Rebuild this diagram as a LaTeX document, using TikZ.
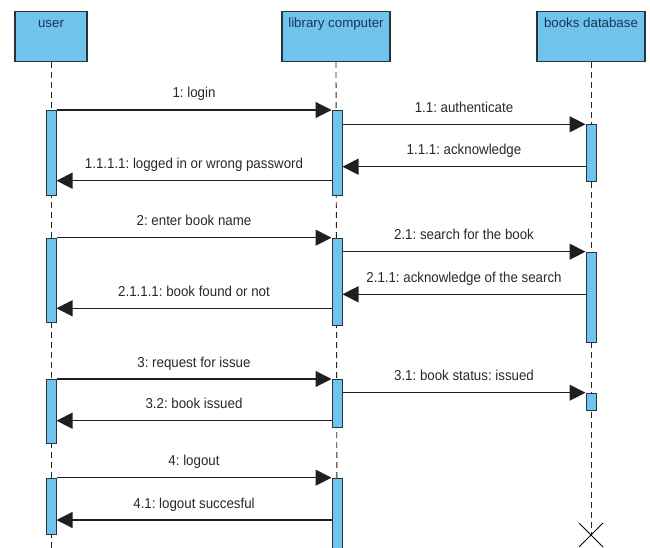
\documentclass[tikz,border=0pt]{standalone}
\usepackage{fontspec}
\setmainfont{Liberation Sans}
\usetikzlibrary{arrows.meta,calc}
\frenchspacing

\definecolor{barblue}{RGB}{112,196,236}
\definecolor{edgeblue}{RGB}{38,52,66}
\definecolor{headtxt}{RGB}{28,52,88}
\definecolor{msgtxt}{RGB}{40,40,40}

\tikzset{
  head/.style={draw=edgeblue, line width=1.2pt, fill=barblue, minimum height=50pt, inner sep=0pt, anchor=north},
  headtext/.style={anchor=base, yshift=-17pt, text=headtxt, inner sep=0pt},
  bar/.style={draw=edgeblue, line width=1pt, fill=barblue, minimum width=10pt, inner sep=0pt, anchor=north},
  lifeline/.style={dash pattern=on 6pt off 4pt, line width=0.9pt, draw=black!85},
  msg/.style={line width=1.1pt, draw=black!88, -{Triangle[length=16pt,width=16pt]}},
  msglbl/.style={anchor=base, yshift=12pt, text=msgtxt, inner sep=0pt, yscale=1.08}
}

\begin{document}
\begin{tikzpicture}[x=1pt, y=-1pt, font=\fontsize{13.3}{16}\selectfont]
				\useasboundingbox (0,0) rectangle (650,548);

				% heads
				\node[head, minimum width=72pt] (user) at (51,11) {};
				\node[headtext] (usertxt) at (user.north) {user};
				\node[head, minimum width=108pt] (lib) at (336,11) {};
				\node[headtext] (libtxt) at (lib.north) {library computer};
				\node[head, minimum width=108pt] (db) at (591,11) {};
				\node[headtext] (dbtxt) at (db.north) {books database};

				% lifelines
				\coordinate (ubot) at (51,548);
				\coordinate (lbot) at (337,548);
				\coordinate (dx) at (591,535);
				\draw[lifeline] (user.south) -- (ubot);
				\draw[lifeline] (lib.south) -- (lbot);
				\draw[lifeline] (db.south) -- (dx);
				\draw[line width=0.9pt] ($(dx)+(-12,-12)$) -- ($(dx)+(12,12)$);
				\draw[line width=0.9pt] ($(dx)+(-12,12)$) -- ($(dx)+(12,-12)$);

				% activation bars
				\node[bar, minimum height=85pt] (ub1) at (51,110) {};
				\node[bar, minimum height=85pt] (lb1) at (337,110) {};
				\node[bar, minimum height=56.4pt] (db1) at (591,124.3) {};

				\node[bar, minimum height=84.3pt] (ub2) at (51,237.7) {};
				\node[bar, minimum height=87.3pt] (lb2) at (337,237.7) {};
				\node[bar, minimum height=90pt] (db2) at (591,251.7) {};

				\node[bar, minimum height=64.3pt] (ub3) at (51,379) {};
				\node[bar, minimum height=47.7pt] (lb3) at (337,379) {};
				\node[bar, minimum height=17.3pt] (db3) at (591,392.7) {};

				\node[bar, minimum height=56.6pt] (ub4) at (51,477.7) {};
				\node[bar, minimum height=90pt] (lb4) at (337,477.7) {};

				% message rows
				\coordinate (r3) at (0,166.7);
				\coordinate (r4) at (0,180.7);
				\coordinate (r7) at (0,294.3);
				\coordinate (r8) at (0,308.3);
				\coordinate (r11) at (0,420.7);
				\coordinate (r13) at (0,520);

				% messages
				\draw[msg] (ub1.north east) -- node[msglbl] (m1) {1: login} (lb1.north west);
				\draw[msg] (lb1.east |- db1.north) -- node[msglbl] (m2) {1.1: authenticate} (db1.north west);
				\draw[msg] (db1.west |- r3) -- node[msglbl] (m3) {1.1.1: acknowledge} (lb1.east |- r3);
				\draw[msg] (lb1.west |- r4) -- node[msglbl] (m4) {1.1.1.1: logged in or wrong password} (ub1.east |- r4);

				\draw[msg] (ub2.north east) -- node[msglbl] (m5) {2: enter book name} (lb2.north west);
				\draw[msg] (lb2.east |- db2.north) -- node[msglbl] (m6) {2.1: search for the book} (db2.north west);
				\draw[msg] (db2.west |- r7) -- node[msglbl] (m7) {2.1.1: acknowledge of the search} (lb2.east |- r7);
				\draw[msg] (lb2.west |- r8) -- node[msglbl] (m8) {2.1.1.1: book found or not} (ub2.east |- r8);

				\draw[msg] (ub3.north east) -- node[msglbl] (m9) {3: request for issue} (lb3.north west);
				\draw[msg] (lb3.east |- db3.north) -- node[msglbl] (m10) {3.1: book status: issued} (db3.north west);
				\draw[msg] (lb3.west |- r11) -- node[msglbl] (m11) {3.2: book issued} (ub3.east |- r11);

				\draw[msg] (ub4.north east) -- node[msglbl] (m12) {4: logout} (lb4.north west);
				\draw[msg] (lb4.west |- r13) -- node[msglbl] (m13) {4.1: logout succesful} (ub4.east |- r13);
			\end{tikzpicture}
\end{document}
